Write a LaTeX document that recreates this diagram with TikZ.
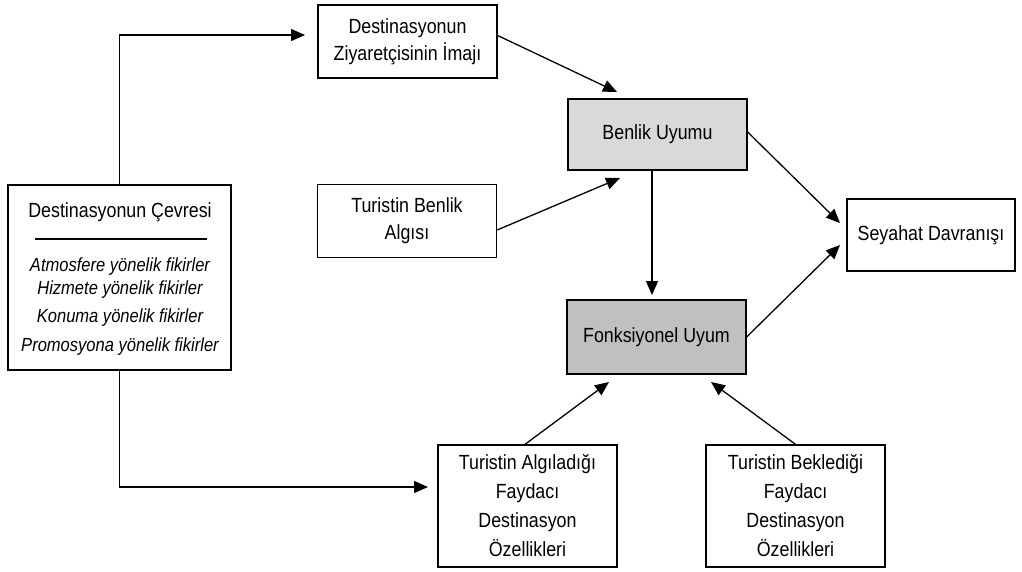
\documentclass[tikz,border=0pt]{standalone}
\usepackage{fontspec}
\setmainfont{Liberation Sans}[FakeStretch=0.87]
\usetikzlibrary{arrows.meta}
\definecolor{lightfill}{HTML}{D9D9D9}
\definecolor{darkfill}{HTML}{C0C0C0}
\begin{document}
\begin{tikzpicture}[x=1pt,y=-1pt,
  box/.style={draw,line width=1.3pt,rectangle,inner sep=0pt,align=center,
    font=\fontsize{20.5}{27}\selectfont},
  tallbox/.style={box,font=\fontsize{20.5}{29}\selectfont,minimum width=179pt,minimum height=122pt},
  lbl/.style={inner sep=0pt,font=\fontsize{20.5}{22}\selectfont},
  ilbl/.style={lbl,font=\fontsize{19}{22}\selectfont\itshape},
  arr/.style={line width=1.3pt,-{Triangle[length=14pt,width=12pt]}}]
\useasboundingbox (0,0) rectangle (1022,571);

% boxes
\node[box,minimum width=179pt,minimum height=73pt] (zi) at (407.5,41.5) {Destinasyonun\\Ziyaretçisinin İmajı};
\node[box,fill=lightfill,minimum width=179pt,minimum height=71pt] (benlik) at (657.5,134.5) {Benlik Uyumu};
\node[box,minimum width=179pt,minimum height=73pt] (algi) at (407,221) {Turistin Benlik\\Algısı};
\node[box,minimum width=168pt,minimum height=72pt] (seyahat) at (931,235) {Seyahat Davranışı};
\node[box,fill=darkfill,minimum width=179pt,minimum height=74pt] (fonk) at (656.5,337) {Fonksiyonel Uyum};
\node[tallbox] (algiladigi) at (527.5,506) {Turistin Algıladığı\\Faydacı\\Destinasyon\\Özellikleri};
\node[tallbox] (bekledigi) at (795.5,506) {Turistin Beklediği\\Faydacı\\Destinasyon\\Özellikleri};

% left box
\node[box,minimum width=223pt,minimum height=185pt] (cevre) at (119.5,277.5) {};
\node[lbl] (ct) at (120,212) {Destinasyonun Çevresi};
\draw[line width=1.3pt] (35,239) -- (207,239);
\node[ilbl] (c1) at (120,267) {Atmosfere yönelik fikirler};
\node[ilbl] (c2) at (120,290) {Hizmete yönelik fikirler};
\node[ilbl] (c3) at (120,318) {Konuma yönelik fikirler};
\node[ilbl] (c4) at (120,347) {Promosyona yönelik fikirler};

% arrow tips
\coordinate (t1) at (305,35);
\coordinate (t2) at (428,487);
\coordinate (t3) at (617,92);
\coordinate (t4) at (620,178);
\coordinate (t5) at (652,295);
\coordinate (t6) at (840,223);
\coordinate (t7) at (840,245);
\coordinate (t8) at (609,382);
\coordinate (t9) at (711,382);

% connectors
\draw[arr] (cevre.north) |- (t1);
\draw[arr] (cevre.south) |- (t2);
\draw[arr] ([yshift=6pt]zi.east) -- (t3);
\draw[arr] ([yshift=-9pt]algi.east) -- (t4);
\draw[arr] ([xshift=-5.5pt]benlik.south) -- (t5);
\draw[arr] ([yshift=2.5pt]benlik.east) -- (t6);
\draw[arr] (fonk.east) -- (t7);
\draw[arr] ([xshift=-2.5pt]algiladigi.north) -- (t8);
\draw[arr] (bekledigi.north) -- (t9);
\end{tikzpicture}
\end{document}
